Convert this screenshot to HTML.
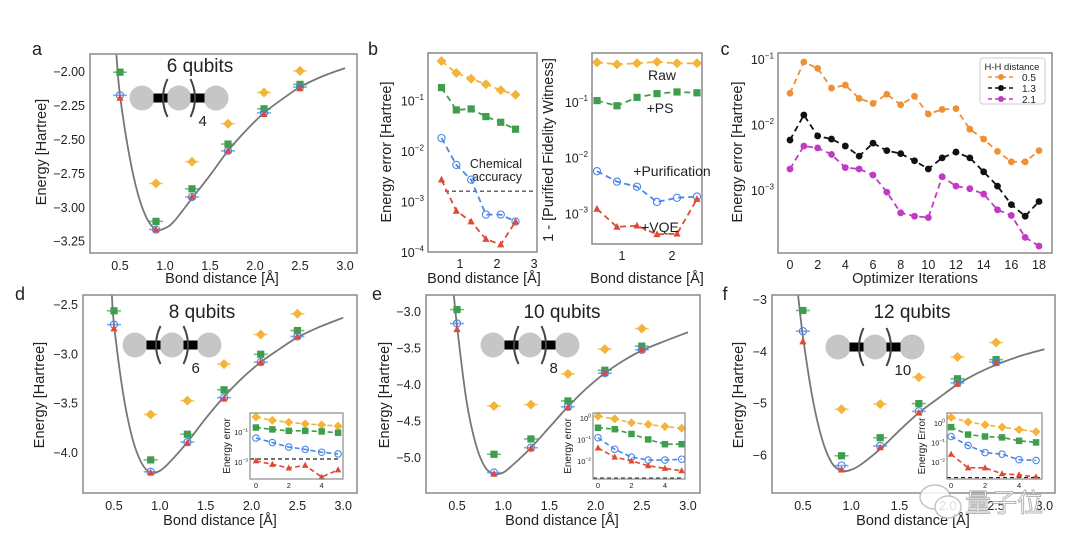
<!DOCTYPE html>
<html><head><meta charset="utf-8"><style>
html,body{margin:0;padding:0;background:#fff;}
svg{display:block;font-family:"Liberation Sans","Noto Sans CJK SC",sans-serif;}
</style></head><body>
<svg id="fig" width="1080" height="554" viewBox="0 0 1080 554" xmlns="http://www.w3.org/2000/svg"></svg>
<script>
// ---------- data ----------
const bondX = [0.5, 0.9, 1.3, 1.7, 2.1, 2.5];
const insetX = [0, 1, 2, 3, 4, 5];
const chemAcc = 0.0016;
// panel a (6 qubits)
const aRaw = [null, -2.82, -2.66, -2.38, -2.15, -1.99];
const aPS = [-2.00, -3.10, -2.86, -2.53, -2.27, -2.09];
const aPur = [-2.17, -3.16, -2.92, -2.58, -2.30, -2.11];
const aVQE = [-2.19, -3.16, -2.92, -2.58, -2.31, -2.12];
const aCurveR = [0.46, 0.5, 0.6, 0.7, 0.8, 0.9, 1.0, 1.1, 1.3, 1.5, 1.7, 1.9, 2.1, 2.3, 2.5, 2.75, 3.0];
const aCurveE = [-1.87, -2.17, -2.6, -2.9, -3.08, -3.16, -3.15, -3.10, -2.93, -2.76, -2.58, -2.43, -2.30, -2.20, -2.11, -2.03, -1.97];
// panel b left
const bRaw = [0.6, 0.35, 0.27, 0.21, 0.16, 0.13];
const bPS = [0.18, 0.065, 0.068, 0.048, 0.037, 0.027];
const bPur = [0.018, 0.0053, 0.0027, 0.00055, 0.00055, 0.0004];
const bVQE = [0.0027, 0.00065, 0.0004, 0.00018, 0.00014, 0.0004];
// panel b right
const wRaw = [0.51, 0.47, 0.49, 0.52, 0.49, 0.49];
const wPS = [0.105, 0.085, 0.12, 0.14, 0.15, 0.145];
const wPur = [0.0057, 0.0037, 0.003, 0.0016, 0.0019, 0.002];
const wVQE = [0.0012, 0.00057, 0.0006, 0.00042, 0.00043, 0.0018];
// panel c
const iters = [0,1,2,3,4,5,6,7,8,9,10,11,12,13,14,15,16,17,18];
const cD05 = [0.03,0.09,0.072,0.036,0.04,0.025,0.021,0.029,0.02,0.027,0.0145,0.017,0.0175,0.0085,0.006,0.0039,0.0027,0.0027,0.004];
const cD13 = [0.0058,0.014,0.0067,0.006,0.0047,0.0033,0.0052,0.004,0.0036,0.0028,0.0021,0.0031,0.0038,0.0031,0.0019,0.00115,0.0006,0.0004,0.00067];
const cD21 = [0.0021,0.0047,0.0044,0.0035,0.0022,0.0021,0.0017,0.00093,0.00045,0.0004,0.00038,0.0016,0.00115,0.00105,0.00087,0.0005,0.00041,0.00019,0.00014];
// panel d (8 qubits)
const dRaw = [null, -3.61, -3.47, -3.10, -2.80, -2.59];
const dPS = [-2.56, -4.07, -3.81, -3.36, -3.00, -2.76];
const dPur = [-2.70, -4.19, -3.89, -3.44, -3.08, -2.82];
const dVQE = [-2.74, -4.20, -3.90, -3.45, -3.08, -2.82];
const dCurveR = [0.477, 0.5, 0.6, 0.7, 0.8, 0.9, 1.0, 1.1, 1.3, 1.5, 1.7, 1.9, 2.1, 2.3, 2.5, 2.75, 3.0];
const dCurveE = [-2.40, -2.70, -3.40, -3.85, -4.10, -4.20, -4.18, -4.10, -3.89, -3.65, -3.43, -3.24, -3.08, -2.95, -2.83, -2.72, -2.63];
const diRaw = [1.0, 0.6, 0.45, 0.35, 0.3, 0.25];
const diPS = [0.2, 0.15, 0.12, 0.12, 0.11, 0.09];
const diPur = [0.04, 0.02, 0.01, 0.007, 0.0045, 0.0035];
const diVQE = [0.0012, 0.0007, 0.0004, 0.0006, 0.0001, 0.0003];
// panel e (10 qubits)
const eRaw = [null, -4.29, -4.27, -3.85, -3.51, -3.23];
const ePS = [-2.97, -4.95, -4.74, -4.22, -3.80, -3.47];
const ePur = [-3.16, -5.20, -4.86, -4.30, -3.84, -3.52];
const eVQE = [-3.24, -5.22, -4.87, -4.31, -3.84, -3.52];
const eCurveR = [0.465, 0.5, 0.6, 0.7, 0.8, 0.9, 1.0, 1.1, 1.3, 1.5, 1.7, 1.9, 2.1, 2.3, 2.5, 2.75, 3.0];
const eCurveE = [-2.77, -3.2, -4.2, -4.8, -5.12, -5.22, -5.2, -5.1, -4.86, -4.58, -4.3, -4.05, -3.84, -3.67, -3.53, -3.4, -3.28];
const eiRaw = [1.2, 0.9, 0.6, 0.5, 0.4, 0.33];
const eiPS = [0.35, 0.3, 0.18, 0.1, 0.06, 0.06];
const eiPur = [0.12, 0.035, 0.015, 0.011, 0.011, 0.012];
const eiVQE = [0.04, 0.015, 0.01, 0.006, 0.0045, 0.0035];
// panel f (12 qubits)
const fRaw = [null, -5.11, -5.01, -4.49, -4.10, -3.82];
const fPS = [-3.20, -6.01, -5.66, -5.00, -4.52, -4.15];
const fPur = [-3.60, -6.20, -5.82, -5.15, -4.60, -4.20];
const fVQE = [-3.80, -6.28, -5.85, -5.18, -4.62, -4.22];
const fCurveR = [0.45, 0.5, 0.6, 0.7, 0.8, 0.9, 1.0, 1.1, 1.3, 1.5, 1.7, 1.9, 2.1, 2.3, 2.5, 2.75, 3.0];
const fCurveE = [-2.9, -3.7, -4.9, -5.7, -6.15, -6.3, -6.28, -6.18, -5.88, -5.52, -5.18, -4.9, -4.63, -4.42, -4.25, -4.08, -3.95];
const fiRaw = [1.9, 1.1, 0.8, 0.6, 0.45, 0.35];
const fiPS = [0.6, 0.25, 0.2, 0.18, 0.12, 0.1];
const fiPur = [0.2, 0.07, 0.03, 0.025, 0.013, 0.012];
const fiVQE = [0.025, 0.005, 0.005, 0.0025, 0.0022, 0.0017];
// tick labels
const bondTicks = [0.5, 1.0, 1.5, 2.0, 2.5, 3.0];
const aYTicks = [-2.00, -2.25, -2.50, -2.75, -3.00, -3.25];
const dYTicks = [-2.5, -3.0, -3.5, -4.0];
const eYTicks = [-3.0, -3.5, -4.0, -4.5, -5.0];
const fYTicks = [-3, -4, -5, -6];
const iterTicks = [0,2,4,6,8,10,12,14,16,18];

// ---------- helpers ----------
const NS = 'http://www.w3.org/2000/svg';
const svg = document.getElementById('fig');
const C = {raw:'#f4b43a', ps:'#3f9e4d', pur:'#4a86e8', vqe:'#df4a36', grey:'#777', frame:'#8a8a8a'};
function el(tag, attrs, parent, name, inter) {
  const e = document.createElementNS(NS, tag);
  for (const k in attrs) e.setAttribute(k, attrs[k]);
  
  
  (parent || svg).appendChild(e);
  return e;
}
function txt(x, y, s, size, anchor, parent, name, extra) {
  const t = el('text', Object.assign({x:x, y:y, 'font-size':size, 'text-anchor':anchor || 'middle', fill:'#222'}, extra || {}), parent, name);
  t.textContent = s;
  return t;
}
function lin(d0, d1, r0, r1) { return v => r0 + (v - d0) / (d1 - d0) * (r1 - r0); }
function logS(d0, d1, r0, r1) { const a = Math.log10(d0), b = Math.log10(d1); return v => r0 + (Math.log10(v) - a) / (b - a) * (r1 - r0); }
function pow10(x, y, exp, size, anchor, parent, name) {
  const t = el('text', {x:x, y:y, 'font-size':size, 'text-anchor':anchor, fill:'#222'}, parent, name);
  const a = document.createElementNS(NS, 'tspan'); a.textContent = '10'; t.appendChild(a);
  const b = document.createElementNS(NS, 'tspan'); b.setAttribute('font-size', size * 0.65); b.setAttribute('dy', -size * 0.45); b.textContent = '\u2212' + exp; t.appendChild(b);
  return t;
}
function frame(x0, y0, x1, y1, parent, name, w) {
  return el('rect', {x:x0, y:y0, width:x1 - x0, height:y1 - y0, fill:'none', stroke:C.frame, 'stroke-width':w || 1.5}, parent, name);
}
function marker(kind, x, y, color, parent, s, withBar) {
  s = s || 1;
  if (withBar) el('line', {x1:x - 7 * s, x2:x + 7 * s, y1:y, y2:y, stroke:color, 'stroke-width':1.6 * s, opacity:0.7}, parent, 'error-bar');
  if (kind === 'raw') el('polygon', {points:[[x, y - 5 * s], [x + 5 * s, y], [x, y + 5 * s], [x - 5 * s, y]].map(p => p.join(',')).join(' '), fill:color}, parent, 'raw-marker');
  else if (kind === 'ps') el('rect', {x:x - 3.6 * s, y:y - 3.6 * s, width:7.2 * s, height:7.2 * s, fill:color}, parent, 'ps-marker');
  else if (kind === 'pur') el('circle', {cx:x, cy:y, r:3.6 * s, fill:'none', stroke:color, 'stroke-width':1.1}, parent, 'purification-marker');
  else if (kind === 'vqe') el('polygon', {points:[[x, y - 4 * s], [x + 3.6 * s, y + 2.8 * s], [x - 3.6 * s, y + 2.8 * s]].map(p => p.join(',')).join(' '), fill:color}, parent, 'vqe-marker');
  else el('circle', {cx:x, cy:y, r:3.4 * s, fill:color}, parent, 'dot-marker');
}
function series(xs, ys, sx, sy, kind, color, parent, dashed, s, withBar, name) {
  const g = el('g', {}, parent, name);
  const pts = [];
  xs.forEach((xv, i) => { if (ys[i] !== null) pts.push([sx(xv), sy(ys[i])]); });
  if (dashed) el('polyline', {points:pts.map(p => p.join(',')).join(' '), fill:'none', stroke:color, 'stroke-width':1.8 * (s || 1), 'stroke-dasharray':dashed}, g, name + '-line');
  pts.forEach(p => marker(kind, p[0], p[1], color, g, s, withBar));
  return g;
}
function smoothPath(pts) {
  let d = 'M' + pts[0][0] + ',' + pts[0][1];
  for (let i = 0; i < pts.length - 1; i++) {
    const p0 = pts[i - 1] || pts[i], p1 = pts[i], p2 = pts[i + 1], p3 = pts[i + 2] || p2;
    const c1 = [p1[0] + (p2[0] - p0[0]) / 6, p1[1] + (p2[1] - p0[1]) / 6];
    const c2 = [p2[0] - (p3[0] - p1[0]) / 6, p2[1] - (p3[1] - p1[1]) / 6];
    d += ' C' + c1.join(',') + ' ' + c2.join(',') + ' ' + p2.join(',');
  }
  return d;
}
function molecule(cx1, cy, sub, parent) {
  const g = el('g', {}, parent, 'molecule-diagram');
  const gap = 37;
  [0, 1, 2].forEach(i => el('circle', {cx:cx1 + i * gap, cy:cy, r:12.5, fill:'#c6c6c6'}, g, 'atom'));
  [0, 1].forEach(i => el('rect', {x:cx1 + i * gap + gap / 2 - 7, y:cy - 4.5, width:14, height:9, fill:'#000'}, g, 'bond'));
  const lx = cx1 + gap / 2 + 2, rx = cx1 + gap * 1.5 - 2;
  el('path', {d:`M${lx + 5},${cy - 19} Q${lx - 4},${cy} ${lx + 5},${cy + 19}`, fill:'none', stroke:'#444', 'stroke-width':2}, g, 'left-bracket');
  el('path', {d:`M${rx - 5},${cy - 19} Q${rx + 4},${cy} ${rx - 5},${cy + 19}`, fill:'none', stroke:'#444', 'stroke-width':2}, g, 'right-bracket');
  txt(rx + 3, cy + 28, sub, 15, 'start', g, 'repeat-subscript');
}
function energyPanel(o) {
  const g = el('g', {}, svg, o.name);
  const sx = lin(o.dx[0], o.dx[1], o.box[0], o.box[2]);
  const sy = lin(o.dy[0], o.dy[1], o.box[3], o.box[1]);
  txt(o.label[0], o.label[1], o.letter, 18, 'middle', g, 'panel-label');
  o.yticks.forEach(v => txt(o.box[0] - 5, sy(v) + 4, (v < 0 ? '\u2212' : '') + Math.abs(v).toFixed(o.ydec), 12.5, 'end', g, 'y-tick-label'));
  bondTicks.forEach(v => txt(sx(v), o.box[3] + 17, v.toFixed(1), 12.5, 'middle', g, 'x-tick-label'));
  txt(o.xt[0], o.xt[1], 'Bond distance [\u00c5]', 14.5, 'middle', g, 'x-axis-title');
  txt(o.yt[0], o.yt[1], 'Energy [Hartree]', 14.5, 'middle', g, 'y-axis-title', {transform:`rotate(-90 ${o.yt[0]} ${o.yt[1]})`});
  const clip = el('clipPath', {id:'clip-' + o.name}, g, 'clip');
  el('rect', {x:o.box[0], y:o.box[1], width:o.box[2] - o.box[0], height:o.box[3] - o.box[1]}, clip, 'clip-rect');
  const cp = o.curveR.map((r, i) => [sx(r), sy(o.curveE[i])]);
  el('path', {d:smoothPath(cp), fill:'none', stroke:C.grey, 'stroke-width':1.8, 'clip-path':`url(#clip-${o.name})`}, g, 'exact-energy-curve');
  txt(o.title[0], o.title[1], o.titleText, 19, 'middle', g, 'qubit-count-title');
  molecule(o.mol[0], o.mol[1], o.sub, g);
  series(bondX, o.raw, sx, sy, 'raw', C.raw, g, null, 1, true, 'raw-series');
  series(bondX, o.ps, sx, sy, 'ps', C.ps, g, null, 1, true, 'ps-series');
  series(bondX, o.pur, sx, sy, 'pur', C.pur, g, null, 1, true, 'purification-series');
  series(bondX, o.vqe, sx, sy, 'vqe', C.vqe, g, null, 1, false, 'vqe-series');
  frame(o.box[0], o.box[1], o.box[2], o.box[3], g, 'plot-frame');
  if (o.inset) insetPanel(o.inset, g);
}
function insetPanel(o, parent) {
  const g = el('g', {}, parent, 'inset-energy-error');
  el('rect', {x:o.box[0], y:o.box[1], width:o.box[2] - o.box[0], height:o.box[3] - o.box[1], fill:'#fff'}, g, 'inset-bg');
  const sx = lin(o.dx[0], o.dx[1], o.box[0], o.box[2]);
  const sy = logS(o.dy[0], o.dy[1], o.box[3], o.box[1]);
  el('line', {x1:o.box[0], x2:o.box[2] - 2, y1:sy(chemAcc), y2:sy(chemAcc), stroke:'#222', 'stroke-width':1.2, 'stroke-dasharray':'4,3'}, g, 'chemical-accuracy-line');
  series(insetX, o.raw, sx, sy, 'raw', C.raw, g, '5,3', 0.9, false, 'inset-raw-series');
  series(insetX, o.ps, sx, sy, 'ps', C.ps, g, '5,3', 0.9, false, 'inset-ps-series');
  series(insetX, o.pur, sx, sy, 'pur', C.pur, g, '5,3', 0.9, false, 'inset-purification-series');
  series(insetX, o.vqe, sx, sy, 'vqe', C.vqe, g, '5,3', 0.9, false, 'inset-vqe-series');
  frame(o.box[0], o.box[1], o.box[2], o.box[3], g, 'inset-frame', 1.2);
  [0, 2, 4].forEach(v => txt(sx(v), o.box[3] + 9, String(v), 7.5, 'middle', g, 'inset-x-tick-label'));
  o.yexp.forEach(e => {
    const t = e === 0 ? txt(o.box[0] - 2, sy(1) + 3, '', 7.5, 'end', g, 'inset-y-tick-label') : pow10(o.box[0] - 2, sy(Math.pow(10, -e)) + 3, e, 7.5, 'end', g, 'inset-y-tick-label');
    if (e === 0) { t.textContent = '10'; const s = document.createElementNS(NS, 'tspan'); s.setAttribute('font-size', 5); s.setAttribute('dy', -3.4); s.textContent = '0'; t.appendChild(s); }
  });
  txt(o.yl[0], o.yl[1], o.ylabel, 10, 'middle', g, 'inset-y-axis-title', {transform:`rotate(-90 ${o.yl[0]} ${o.yl[1]})`});
}

// ---------- panel a ----------
energyPanel({name:'panel-a', letter:'a', label:[37, 55], box:[90, 54, 357, 253], dx:[0.167, 3.133], dy:[-3.333, -1.866],
  yticks:aYTicks, ydec:2, xt:[222, 283], yt:[46, 152], curveR:aCurveR, curveE:aCurveE,
  title:[200, 72], titleText:'6 qubits', mol:[142, 98], sub:'4', raw:aRaw, ps:aPS, pur:aPur, vqe:aVQE});

// ---------- panel b ----------
(function () {
  const g = el('g', {}, svg, 'panel-b');
  txt(373, 55, 'b', 18, 'middle', g, 'panel-label');
  const box = [428, 53, 537, 252];
  const sx = lin(0.135, 3.08, box[0], box[2]);
  const sy = logS(1e-4, Math.pow(10, -0.06), box[3], box[1]);
  el('line', {x1:445, x2:535, y1:sy(chemAcc), y2:sy(chemAcc), stroke:'#333', 'stroke-width':1.2, 'stroke-dasharray':'4,3'}, g, 'chemical-accuracy-line');
  txt(522, 168, 'Chemical', 12.5, 'end', g, 'chemical-accuracy-label');
  txt(522, 181, 'accuracy', 12.5, 'end', g, 'chemical-accuracy-label');
  series(bondX, bRaw, sx, sy, 'raw', C.raw, g, '6,4', 1, false, 'raw-series');
  series(bondX, bPS, sx, sy, 'ps', C.ps, g, '6,4', 1, false, 'ps-series');
  series(bondX, bPur, sx, sy, 'pur', C.pur, g, '6,4', 1, false, 'purification-series');
  series(bondX, bVQE, sx, sy, 'vqe', C.vqe, g, '6,4', 1, false, 'vqe-series');
  frame(box[0], box[1], box[2], box[3], g, 'plot-frame');
  [1, 2, 3, 4].forEach(e => pow10(box[0] - 4, sy(Math.pow(10, -e)) + 5, e, 12.5, 'end', g, 'y-tick-label'));
  [1, 2, 3].forEach(v => txt(sx(v), box[3] + 16, String(v), 12.5, 'middle', g, 'x-tick-label'));
  txt(484, 283, 'Bond distance [\u00c5]', 14.5, 'middle', g, 'x-axis-title');
  txt(391, 152, 'Energy error [Hartree]', 14.5, 'middle', g, 'y-axis-title', {transform:'rotate(-90 391 152)'});
  const b2 = [592, 53, 702, 244];
  const sx2 = lin(0.4, 2.6, b2[0], b2[2]);
  const sy2 = logS(Math.pow(10, -3.55), Math.pow(10, -0.125), b2[3], b2[1]);
  series(bondX, wRaw, sx2, sy2, 'raw', C.raw, g, '6,4', 1, false, 'witness-raw-series');
  series(bondX, wPS, sx2, sy2, 'ps', C.ps, g, '6,4', 1, false, 'witness-ps-series');
  series(bondX, wPur, sx2, sy2, 'pur', C.pur, g, '6,4', 1, false, 'witness-purification-series');
  series(bondX, wVQE, sx2, sy2, 'vqe', C.vqe, g, '6,4', 1, false, 'witness-vqe-series');
  frame(b2[0], b2[1], b2[2], b2[3], g, 'plot-frame-right');
  [1, 2, 3].forEach(e => pow10(b2[0] - 4, sy2(Math.pow(10, -e)) + 5, e, 12.5, 'end', g, 'y-tick-label'));
  [1, 2].forEach(v => txt(sx2(v), b2[3] + 16, String(v), 12.5, 'middle', g, 'x-tick-label'));
  txt(647, 283, 'Bond distance [\u00c5]', 14.5, 'middle', g, 'x-axis-title');
  txt(553, 150, '1 - [Purified Fidelity Witness]', 14.5, 'middle', g, 'y-axis-title', {transform:'rotate(-90 553 150)'});
  txt(662, 80, 'Raw', 14, 'middle', g, 'raw-label');
  txt(660, 113, '+PS', 14, 'middle', g, 'ps-label');
  txt(672, 176, '+Purification', 14, 'middle', g, 'purification-label');
  txt(660, 232, '+VQE', 14, 'middle', g, 'vqe-label');
})();

// ---------- panel c ----------
(function () {
  const g = el('g', {}, svg, 'panel-c');
  txt(725, 55, 'c', 18, 'middle', g, 'panel-label');
  const box = [778, 53, 1052, 253];
  const sx = lin(0, 18, 790, 1039);
  const sy = logS(Math.pow(10, -3.96), Math.pow(10, -1 + 6 / 65.5), box[3], box[1]);
  series(iters, cD05, sx, sy, 'dot', '#ef9035', g, '6,4', 1, false, 'series-0-5');
  series(iters, cD13, sx, sy, 'dot', '#111', g, '6,4', 1, false, 'series-1-3');
  series(iters, cD21, sx, sy, 'dot', '#c13ac4', g, '6,4', 1, false, 'series-2-1');
  frame(box[0], box[1], box[2], box[3], g, 'plot-frame');
  [1, 2, 3].forEach(e => pow10(box[0] - 4, sy(Math.pow(10, -e)) + 5, e, 12.5, 'end', g, 'y-tick-label'));
  iterTicks.forEach(v => txt(sx(v), box[3] + 16, String(v), 12.5, 'middle', g, 'x-tick-label'));
  txt(915, 283, 'Optimizer Iterations', 14.5, 'middle', g, 'x-axis-title');
  txt(742, 152, 'Energy error [Hartree]', 14.5, 'middle', g, 'y-axis-title', {transform:'rotate(-90 742 152)'});
  const lg = el('g', {}, g, 'legend');
  el('rect', {x:980, y:58, width:65, height:46, rx:3, fill:'#fff', stroke:'#ccc'}, lg, 'legend-box');
  txt(1012, 70, 'H-H distance', 9.5, 'middle', lg, 'legend-title');
  [['0.5', '#ef9035', 80], ['1.3', '#111', 91], ['2.1', '#c13ac4', 102]].forEach(d => {
    const e = el('g', {}, lg, 'legend-entry');
    el('line', {x1:988, x2:1014, y1:d[2] - 3, y2:d[2] - 3, stroke:d[1], 'stroke-width':1.5, 'stroke-dasharray':'4,3'}, e, 'legend-line');
    el('circle', {cx:1001, cy:d[2] - 3, r:3, fill:d[1]}, e, 'legend-marker');
    txt(1022, d[2] + 1, d[0], 10, 'start', e, 'legend-label');
  });
})();

// ---------- panels d, e, f ----------
energyPanel({name:'panel-d', letter:'d', label:[20, 300], box:[83, 295, 357, 493], dx:[0.162, 3.15], dy:[-4.405, -2.40],
  yticks:dYTicks, ydec:1, xt:[220, 525], yt:[44, 395], curveR:dCurveR, curveE:dCurveE,
  title:[202, 318], titleText:'8 qubits', mol:[135, 345], sub:'6', raw:dRaw, ps:dPS, pur:dPur, vqe:dVQE,
  inset:{box:[250, 413, 343, 479], dx:[-0.36, 5.3], dy:[Math.pow(10, -4.13), Math.pow(10, 0.27)], yexp:[1, 3], yl:[230, 446], ylabel:'Energy error',
    raw:diRaw, ps:diPS, pur:diPur, vqe:diVQE}});
energyPanel({name:'panel-e', letter:'e', label:[377, 300], box:[426, 295, 700, 493], dx:[0.164, 3.13], dy:[-5.48, -2.77],
  yticks:eYTicks, ydec:1, xt:[562, 525], yt:[389, 395], curveR:eCurveR, curveE:eCurveE,
  title:[562, 318], titleText:'10 qubits', mol:[493, 345], sub:'8', raw:eRaw, ps:ePS, pur:ePur, vqe:eVQE,
  inset:{box:[593, 413, 685, 479], dx:[-0.3, 5.2], dy:[Math.pow(10, -2.84), Math.pow(10, 0.23)], yexp:[0, 1, 2], yl:[571, 446], ylabel:'Energy error',
    raw:eiRaw, ps:eiPS, pur:eiPur, vqe:eiVQE}});
energyPanel({name:'panel-f', letter:'f', label:[725, 300], box:[772, 295, 1055, 493], dx:[0.18, 3.11], dy:[-6.73, -2.90],
  yticks:fYTicks, ydec:0, xt:[913, 525], yt:[743, 395], curveR:fCurveR, curveE:fCurveE,
  title:[912, 318], titleText:'12 qubits', mol:[838, 347], sub:'10', raw:fRaw, ps:fPS, pur:fPur, vqe:fVQE,
  inset:{box:[947, 413, 1042, 479], dx:[-0.24, 5.35], dy:[Math.pow(10, -2.87), Math.pow(10, 0.5)], yexp:[0, 1, 2], yl:[925, 446], ylabel:'Energy Error',
    raw:fiRaw, ps:fiPS, pur:fiPur, vqe:fiVQE}});

// watermark
(function () {
  const g = el('g', {opacity:0.85}, svg, 'watermark');
  el('ellipse', {cx:935, cy:497, rx:15, ry:12, fill:'#fff', stroke:'#bbb', 'stroke-width':1.5}, g, 'watermark-icon');
  el('ellipse', {cx:948, cy:507, rx:13, ry:11, fill:'#fff', stroke:'#bbb', 'stroke-width':1.5}, g, 'watermark-icon');
  txt(1004, 512, '\u91cf\u5b50\u4f4d', 26, 'middle', g, 'watermark-text', {fill:'#fff', stroke:'#aaa', 'stroke-width':1});
})();
</script>
</body></html>
